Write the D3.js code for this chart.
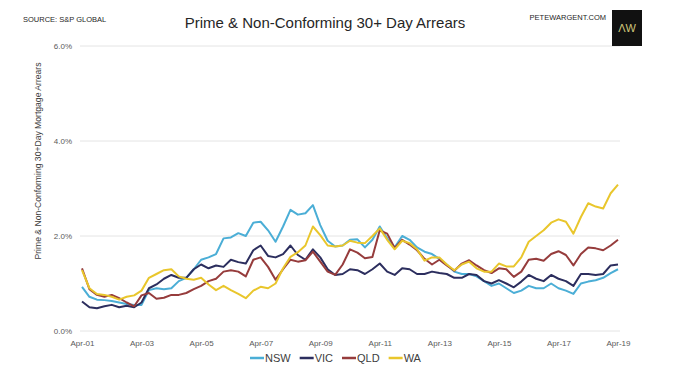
<!DOCTYPE html>
<html>
<head>
<meta charset="utf-8">
<script src="https://cdn.jsdelivr.net/npm/d3@7"></script>
<style>
body { margin: 0; background: #fff; }
svg { font-family: "Liberation Sans", Arial, sans-serif; }
.grid line { stroke: #e4e4e4; stroke-width: 1; }
.axis path, .axis line { display: none; }
.axis text { fill: #595959; font-size: 8px; }
.series { fill: none; stroke-width: 2; stroke-linejoin: round; }
</style>
</head>
<body>
<div id="chart"></div>
<script>
// quarterly readings, Apr-01 .. Apr-19, % of loans 30+ days in arrears
var startMonth = new Date(2001, 3, 1);

var nsw = [0.93, 0.72, 0.66, 0.65,  0.63, 0.60, 0.57, 0.55,  0.55, 0.86, 0.90, 0.88,
           0.90, 1.05, 1.12, 1.30,  1.50, 1.55, 1.62, 1.95,  1.97, 2.06, 2.00, 2.28,
           2.30, 2.12, 1.88, 2.20,  2.55, 2.45, 2.48, 2.65,  2.23, 1.90, 1.78, 1.80,
           1.92, 1.93, 1.76, 1.92,  2.20, 1.95, 1.76, 2.00,  1.92, 1.76, 1.67, 1.62,
           1.52, 1.40, 1.25, 1.20,  1.20, 1.15, 1.05, 0.95,  1.00, 0.90, 0.80, 0.85,
           0.95, 0.90, 0.90, 1.00,  0.90, 0.85, 0.78, 1.00,  1.04, 1.07, 1.12, 1.22,
           1.30];

var vic = [0.62, 0.50, 0.48, 0.52,  0.55, 0.50, 0.53, 0.50,  0.60, 0.90, 0.98, 1.10,
           1.18, 1.12, 1.12, 1.30,  1.40, 1.32, 1.38, 1.35,  1.50, 1.45, 1.42, 1.70,
           1.80, 1.58, 1.55, 1.62,  1.80, 1.60, 1.50, 1.72,  1.55, 1.30, 1.18, 1.20,
           1.30, 1.28, 1.20, 1.30,  1.42, 1.25, 1.18, 1.32,  1.30, 1.20, 1.20, 1.25,
           1.22, 1.20, 1.12, 1.12,  1.20, 1.18, 1.05, 1.00,  1.07, 1.00, 0.92, 1.04,
           1.18, 1.10, 1.05, 1.18,  1.10, 1.05, 0.95, 1.20,  1.20, 1.18, 1.20, 1.38,
           1.40];

var qld = [1.32, 0.88, 0.76, 0.72,  0.76, 0.69, 0.60, 0.52,  0.75, 0.80, 0.68, 0.70,
           0.76, 0.76, 0.80, 0.88,  0.95, 1.05, 1.10, 1.25,  1.28, 1.25, 1.15, 1.50,
           1.55, 1.35, 1.08, 1.30,  1.50, 1.46, 1.49, 1.67,  1.46, 1.25, 1.18, 1.40,
           1.72, 1.65, 1.53, 1.56,  2.12, 2.05, 1.75, 1.92,  1.82, 1.70, 1.52, 1.40,
           1.50, 1.38, 1.27, 1.42,  1.49, 1.38, 1.28, 1.22,  1.32, 1.30, 1.14, 1.25,
           1.50, 1.52, 1.48, 1.62,  1.68, 1.60, 1.38, 1.62,  1.76, 1.74, 1.70, 1.80,
           1.92];

var wa  = [1.28, 0.90, 0.78, 0.76,  0.72, 0.66, 0.72, 0.75,  0.85, 1.12, 1.20, 1.28,
           1.30, 1.15, 1.10, 1.08,  1.12, 0.98, 0.86, 0.95,  0.86, 0.78, 0.69, 0.85,
           0.93, 0.90, 1.00, 1.32,  1.56, 1.66, 1.80, 2.20,  2.02, 1.80, 1.78, 1.80,
           1.90, 1.86, 1.85, 2.00,  2.16, 1.92, 1.72, 1.90,  1.85, 1.72, 1.48, 1.55,
           1.55, 1.40, 1.28, 1.40,  1.46, 1.32, 1.25, 1.25,  1.42, 1.36, 1.36, 1.55,
           1.88, 2.00, 2.12, 2.28,  2.35, 2.30, 2.05, 2.40,  2.69, 2.62, 2.58, 2.90,
           3.08];

var states = ["NSW", "VIC", "QLD", "WA"];
var colors = ["#4baed6", "#2c2e5e", "#963c3c", "#e9c62c"];
var yTicks = [0, 2, 4, 6];
var xTickYears = [2001, 2003, 2005, 2007, 2009, 2011, 2013, 2015, 2017, 2019];

var margin = {top: 46, right: 63, bottom: 48, left: 82},
    width = 681 - margin.left - margin.right,
    height = 379 - margin.top - margin.bottom;

var dates = nsw.map(function(d, i) { return d3.timeMonth.offset(startMonth, 3 * i); });
var seriesData = [nsw, vic, qld, wa];

var x = d3.scaleTime()
    .domain([startMonth, dates[dates.length - 1]])
    .range([0, width]);

var y = d3.scaleLinear()
    .domain([0, 6])
    .range([height, 0]);

var xAxis = d3.axisBottom(x)
    .tickValues(xTickYears.map(function(yr) { return new Date(yr, 3, 1); }))
    .tickFormat(d3.timeFormat("%b-%y"))
    .tickSize(0)
    .tickPadding(9);

var yAxis = d3.axisLeft(y)
    .tickValues(yTicks)
    .tickFormat(function(d) { return d.toFixed(1) + "%"; })
    .tickSize(0)
    .tickPadding(10);

var root = d3.select("#chart").append("svg")
    .attr("width", 681)
    .attr("height", 379);

root.append("rect").attr("width", 681).attr("height", 379).attr("fill", "#fff");

var svg = root.append("g")
    .attr("transform", "translate(" + margin.left + "," + margin.top + ")");

// gridlines
svg.append("g")
    .attr("class", "grid")
  .selectAll("line")
    .data(yTicks)
  .enter().append("line")
    .attr("x1", -2)
    .attr("x2", width + 2)
    .attr("y1", function(d) { return y(d); })
    .attr("y2", function(d) { return y(d); });

svg.append("g")
    .attr("class", "x axis")
    .attr("transform", "translate(0," + height + ")")
    .call(xAxis);

svg.append("g")
    .attr("class", "y axis")
    .call(yAxis);

var line = d3.line()
    .x(function(d, i) { return x(dates[i]); })
    .y(function(d) { return y(d); });

svg.selectAll(".series")
    .data(seriesData)
  .enter().append("path")
    .attr("class", "series")
    .attr("stroke", function(d, i) { return colors[i]; })
    .attr("d", line);

// y axis title
root.append("text")
    .attr("transform", "translate(41,161) rotate(-90)")
    .attr("text-anchor", "middle")
    .style("font-size", "8.6px")
    .style("fill", "#404040")
    .text("Prime & Non-Conforming 30+Day Mortgage Arrears");

// title + header
root.append("text")
    .attr("x", 325)
    .attr("y", 28)
    .attr("text-anchor", "middle")
    .style("font-size", "15px")
    .style("fill", "#262626")
    .text("Prime & Non-Conforming 30+ Day Arrears");

root.append("text")
    .attr("x", 23)
    .attr("y", 22)
    .style("font-size", "7.5px")
    .style("fill", "#262626")
    .text("SOURCE: S&P GLOBAL");

root.append("text")
    .attr("x", 606)
    .attr("y", 20)
    .attr("text-anchor", "end")
    .style("font-size", "7.5px")
    .style("fill", "#262626")
    .text("PETEWARGENT.COM");

root.append("rect")
    .attr("x", 612)
    .attr("y", 10)
    .attr("width", 30)
    .attr("height", 36)
    .attr("fill", "#111");

root.append("text")
    .attr("x", 627)
    .attr("y", 32)
    .attr("text-anchor", "middle")
    .style("font-size", "11px")
    .style("fill", "#cfc67a")
    .text("ΛW");

// legend
var legend = root.append("g").attr("transform", "translate(250,358)");
var lx = 0;
states.forEach(function(s, i) {
  var g = legend.append("g").attr("transform", "translate(" + lx + ",0)");
  g.append("line")
      .attr("x1", 0).attr("x2", 14)
      .attr("y1", 0).attr("y2", 0)
      .attr("stroke", colors[i])
      .attr("stroke-width", 2.5);
  var t = g.append("text")
      .attr("x", 15)
      .attr("dy", "0.35em")
      .style("font-size", "11px")
      .style("fill", "#404040")
      .text(s);
  lx += 15 + t.node().getComputedTextLength() + 9;
});
</script>
</body>
</html>
